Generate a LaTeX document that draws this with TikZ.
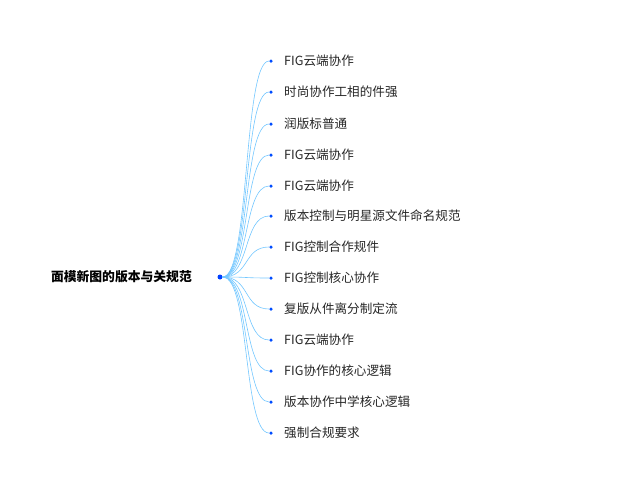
\documentclass[tikz,border=0pt]{standalone}
\usepackage{fontspec}
\setmainfont{Noto Sans CJK SC}
\usetikzlibrary{calc}
\begin{document}
\begin{tikzpicture}[x=1pt,y=-1pt,
  leaf/.style={circle,fill=blue!70!cyan,inner sep=0pt,minimum size=3.5pt},
  lbl/.style={anchor=west,inner sep=0pt,font=\fontsize{12.6}{14}\selectfont,text=black!85},
  conn/.style={draw=blue!40!cyan!55,line width=0.6pt}]
\useasboundingbox (0,0) rectangle (640,480);
\node[circle,fill=blue!75!cyan,inner sep=0pt,minimum size=5pt] (r) at (220,277) {};
\node[anchor=east,inner sep=0pt,font=\fontsize{12.8}{14}\selectfont\bfseries] (rt) at (192,277) {面模新图的版本与关规范};
\foreach \i/\y/\t in {1/61/FIG云端协作,2/92/时尚协作工相的件强,3/124/润版标普通,4/155/FIG云端协作,5/186/FIG云端协作,6/216/版本控制与明星源文件命名规范,7/247/FIG控制合作规件,8/278/FIG控制核心协作,9/309/复版从件离分制定流,10/340/FIG云端协作,11/371/FIG协作的核心逻辑,12/402/版本协作中学核心逻辑,13/433/强制合规要求}{
  \node[leaf] (l\i) at (271,\y) {};
  \node[lbl] (t\i) at (284,\y) {\t};
  \draw[conn] (r) .. controls ($(r)+(30,0)$) and ($(l\i)+(-28,0)$) .. (l\i);
}
\end{tikzpicture}
\end{document}
